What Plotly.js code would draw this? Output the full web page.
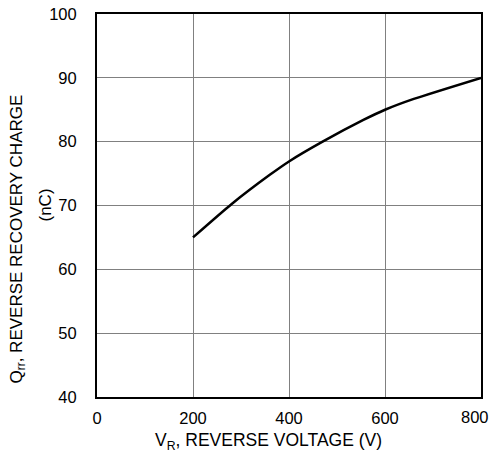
<!DOCTYPE html>
<html><head><meta charset="utf-8">
<script src="https://cdn.plot.ly/plotly-3.0.1.min.js"></script>
<style>body{margin:0;background:#fff}#chart{width:491px;height:453px}</style>
</head><body><div id="chart"></div>
<script>
const voltage = [200, 280, 360, 400, 470, 555, 600, 660, 800];
const charge = [65, 70.2, 74.8, 76.9, 80, 83.4, 85, 86.7, 90];
const xTicks = [0, 200, 400, 600, 800];
const yTicks = [40, 50, 60, 70, 80, 90, 100];

const tickFont = {family: 'Liberation Sans, Arial, sans-serif', size: 16.5, color: '#000'};
const xTitleFont = {family: 'Liberation Sans, Arial, sans-serif', size: 17.5, color: '#000'};
const yTitleFont = {family: 'Liberation Sans, Arial, sans-serif', size: 17, color: '#000'};
const lastX = xTicks[xTicks.length - 1];
const trace = {
  x: voltage, y: charge, type: 'scatter', mode: 'lines',
  line: {color: '#000', width: 2.5, shape: 'spline', smoothing: 0.6},
  hoverinfo: 'skip'
};
const layout = {
  width: 491, height: 453,
  margin: {l: 97, r: 10, t: 14, b: 56},
  paper_bgcolor: '#fff', plot_bgcolor: '#fff',
  font: tickFont,
  showlegend: false,
  xaxis: {
    range: [0, 800], tickvals: xTicks,
    ticktext: xTicks.map(v => v === lastX ? '' : String(v)),
    showgrid: true, gridcolor: '#808080', gridwidth: 1,
    showline: true, linecolor: '#000', linewidth: 2, mirror: true,
    ticks: '', zeroline: false, tickfont: tickFont, ticklabelstandoff: 5
  },
  yaxis: {
    range: [40, 100], tickvals: yTicks, ticktext: yTicks.map(String),
    showgrid: true, gridcolor: '#808080', gridwidth: 1,
    showline: true, linecolor: '#000', linewidth: 2, mirror: true,
    ticks: '', zeroline: false, tickfont: tickFont, ticklabelstandoff: 15
  },
  annotations: [
    {text: String(lastX), xref: 'x', yref: 'paper', x: lastX, y: 0, xanchor: 'right',
     xshift: 10, yanchor: 'middle', yshift: -20, showarrow: false, font: tickFont},
    {text: 'V<sub>R</sub>, REVERSE VOLTAGE (V)', xref: 'paper', yref: 'paper',
     x: 0.46, xshift: -5, y: 0, yshift: -31, yanchor: 'top', xanchor: 'center', showarrow: false, font: xTitleFont},
    {text: 'Q<sub>rr</sub>, REVERSE RECOVERY CHARGE', xref: 'paper', yref: 'paper',
     x: 0, xshift: -80, y: 0.5, yshift: -34, textangle: -90, xanchor: 'center', yanchor: 'middle', showarrow: false, font: yTitleFont},
    {text: '(nC)', xref: 'paper', yref: 'paper',
     x: 0, xshift: -52, y: 0.5, textangle: -90, xanchor: 'center', yanchor: 'middle', showarrow: false, font: yTitleFont}
  ]
};
Plotly.newPlot('chart', [trace], layout, {staticPlot: true, displayModeBar: false});
</script></body></html>
